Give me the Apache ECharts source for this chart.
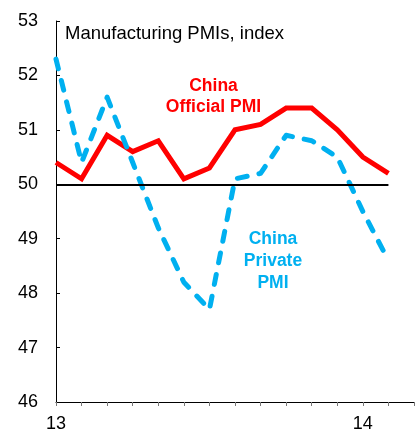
<!DOCTYPE html>
<html>
<head>
<meta charset="utf-8">
<script src="https://cdn.jsdelivr.net/npm/echarts@6/dist/echarts.min.js"></script>
<style>
  html, body { margin: 0; padding: 0; background: #fff; }
  #chart { width: 420px; height: 430px; }
</style>
</head>
<body>
<div id="chart"></div>
<script>
// months Jan 2013 .. Mar 2014 (last slot is just axis room)
const months = ['Jan13', 'Feb13', 'Mar13', 'Apr13', 'May13', 'Jun13', 'Jul13', 'Aug13',
  'Sep13', 'Oct13', 'Nov13', 'Dec13', 'Jan14', 'Feb14', 'Mar14']
const tickLabels = { Jan13: '13', Jan14: '14' }

const officialPmi = [50.4, 50.1, 50.9, 50.6, 50.8, 50.1, 50.3, 51.0, 51.1, 51.4, 51.4, 51.0, 50.5, 50.2]
const privatePmi = [52.3, 50.4, 51.6, 50.4, 49.2, 48.2, 47.7, 50.1, 50.2, 50.9, 50.8, 50.5, 49.5, 48.6]

const RED = '#ff0000'
const BLUE = '#00b0f0'
const FONT = '"Liberation Sans", Arial, sans-serif'

const chart = echarts.init(document.getElementById('chart'))

chart.setOption({
  animation: false,
  textStyle: { fontFamily: FONT },
  grid: { left: 56, right: 6, top: 21, bottom: 28, containLabel: false, outerBoundsMode: 'none' },
  graphic: [
    {
      type: 'text', x: 65, y: 33.5,
      style: {
        text: 'Manufacturing PMIs, index', font: '18.5px ' + FONT, fill: '#000',
        verticalAlign: 'middle'
      }
    },
    {
      type: 'text', x: 213.5, y: 76,
      style: {
        text: 'China\nOfficial PMI', font: 'bold 17.5px ' + FONT, fill: RED,
        align: 'center', lineHeight: 20.6
      }
    },
    {
      type: 'text', x: 273, y: 228.7,
      style: {
        text: 'China\nPrivate\nPMI', font: 'bold 17.5px ' + FONT, fill: BLUE,
        align: 'center', lineHeight: 21.7
      }
    }
  ],
  xAxis: {
    type: 'category',
    data: months,
    boundaryGap: false,
    axisLine: { lineStyle: { color: '#000', width: 1 } },
    axisTick: { show: true, interval: 0, length: 4, lineStyle: { color: '#777' } },
    axisLabel: {
      interval: 0, margin: 13, fontSize: 18, color: '#000', fontFamily: FONT,
      formatter: v => tickLabels[v] || ''
    },
    splitLine: { show: false }
  },
  yAxis: {
    type: 'value',
    min: 46, max: 53, interval: 1,
    axisLine: { show: true, lineStyle: { color: '#000', width: 1 } },
    axisTick: { show: true, inside: true, length: 4, lineStyle: { color: '#000' } },
    axisLabel: { fontSize: 18, color: '#000', margin: 18, fontFamily: FONT },
    splitLine: { show: false }
  },
  series: [
    {
      name: 'China Official PMI',
      type: 'line',
      data: officialPmi,
      symbol: 'none',
      lineStyle: { color: RED, width: 5, join: 'miter' },
      z: 3,
      markLine: {
        silent: true,
        symbol: 'none',
        label: { show: false },
        lineStyle: { color: '#000', width: 2, type: 'solid' },
        data: [[{ coord: [0, 50] }, { coord: [13, 50] }]]
      }
    },
    {
      name: 'China Private PMI',
      type: 'line',
      data: privatePmi,
      symbol: 'none',
      lineStyle: { color: BLUE, width: 5, type: [10, 12], cap: 'round', join: 'round' },
      z: 4
    }
  ]
})
</script>
</body>
</html>
